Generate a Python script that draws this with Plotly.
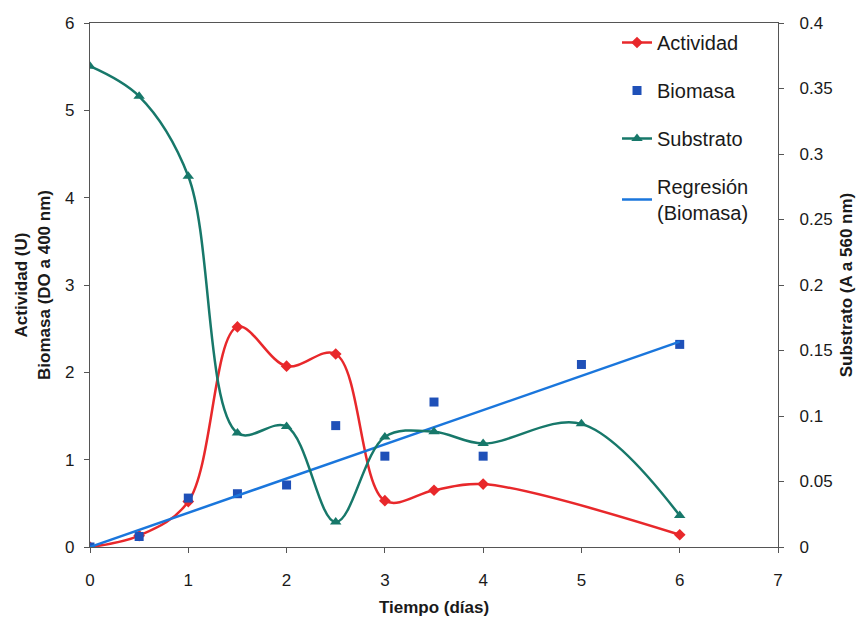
import numpy as np
import plotly.graph_objects as go

# Enzyme activity (U)
act_t = [0, 0.5, 1, 1.5, 2, 2.5, 3, 3.5, 4, 6]
act_v = [0, 0.13, 0.52, 2.52, 2.07, 2.21, 0.53, 0.65, 0.72, 0.14]

# Biomass (OD at 400 nm)
bio_t = [0, 0.5, 1, 1.5, 2, 2.5, 3, 3.5, 4, 5, 6]
bio_v = [0, 0.12, 0.56, 0.61, 0.71, 1.39, 1.04, 1.66, 1.04, 2.09, 2.32]

# Substrate (A at 560 nm)
sub_t = [0, 0.5, 1, 1.5, 2, 2.5, 3, 3.5, 4, 5, 6]
sub_v = [0.367, 0.344, 0.283, 0.087, 0.092, 0.019, 0.084, 0.088, 0.079, 0.094, 0.024]

# Least-squares line of biomass vs. time, forced through the origin
bt = np.array(bio_t, dtype=float)
bv = np.array(bio_v, dtype=float)
slope = float(np.dot(bt, bv) / np.dot(bt, bt))
reg_t = [min(bio_t), max(bio_t)]
reg_v = [slope * t for t in reg_t]

RED = "#e8282b"
BLUE_SQ = "#1f50b8"
TEAL = "#17786a"
BLUE_LN = "#1a76dc"
AX = "#555555"
FONT = "Liberation Sans, Arial, sans-serif"
TXT = "#1a1a1a"

fig = go.Figure()
fig.add_trace(go.Scatter(
    x=act_t, y=act_v, name="Actividad", mode="lines+markers",
    line=dict(color=RED, width=2.5, shape="spline", smoothing=1),
    marker=dict(symbol="diamond", size=9, color=RED),
    legendgroup="a"))
fig.add_trace(go.Scatter(
    x=bio_t, y=bio_v, name="Biomasa", mode="markers",
    marker=dict(symbol="square", size=9, color=BLUE_SQ),
    legendgroup="b"))
fig.add_trace(go.Scatter(
    x=sub_t, y=sub_v, name="Substrato", mode="lines+markers", yaxis="y2",
    line=dict(color=TEAL, width=2.5, shape="spline", smoothing=1),
    marker=dict(symbol="triangle-up", size=10, color=TEAL),
    legendgroup="c"))
fig.add_trace(go.Scatter(
    x=reg_t, y=reg_v, name="Regresión<br>(Biomasa)", mode="lines",
    line=dict(color=BLUE_LN, width=2.5),
    legendgroup="d"))

fig.update_layout(
    width=862, height=617,
    margin=dict(l=90, r=84, t=23, b=70, autoexpand=False),
    paper_bgcolor="white", plot_bgcolor="white",
    font=dict(family=FONT, size=17, color=TXT),
    showlegend=True,
    legend=dict(x=0.766, y=1.0, xanchor="left", yanchor="top",
                bgcolor="rgba(0,0,0,0)", font=dict(size=20, color=TXT),
                traceorder="grouped", tracegroupgap=19, itemwidth=30),
    xaxis=dict(range=[0, 7], dtick=1, showgrid=False, zeroline=False,
               showline=True, linecolor=AX, linewidth=1.2, mirror=True,
               ticks="outside", ticklen=5, tickcolor=AX,
               ticklabelstandoff=12, automargin=False,
               tickfont=dict(size=17),
               title=dict(text="<b>Tiempo (días)</b>", font=dict(size=17), standoff=13)),
    yaxis=dict(range=[0, 6], dtick=1, showgrid=False, zeroline=False,
               showline=True, linecolor=AX, linewidth=1.2,
               ticks="outside", ticklen=5, tickcolor=AX,
               ticklabelstandoff=6, automargin=False,
               tickfont=dict(size=17),
               title=dict(text="<b>Actividad (U)<br>Biomasa (DO a 400 nm)</b>",
                          font=dict(size=17), standoff=10)),
    yaxis2=dict(range=[0, 0.4], dtick=0.05, overlaying="y", side="right",
                showgrid=False, zeroline=False,
                showline=True, linecolor=AX, linewidth=1.2,
                ticks="outside", ticklen=5, tickcolor=AX,
                ticklabelstandoff=12, automargin=False,
                tickfont=dict(size=17),
                title=dict(text="<b>Substrato (A a 560 nm)</b>",
                           font=dict(size=17), standoff=8)),
)

fig.write_html("out.html")
